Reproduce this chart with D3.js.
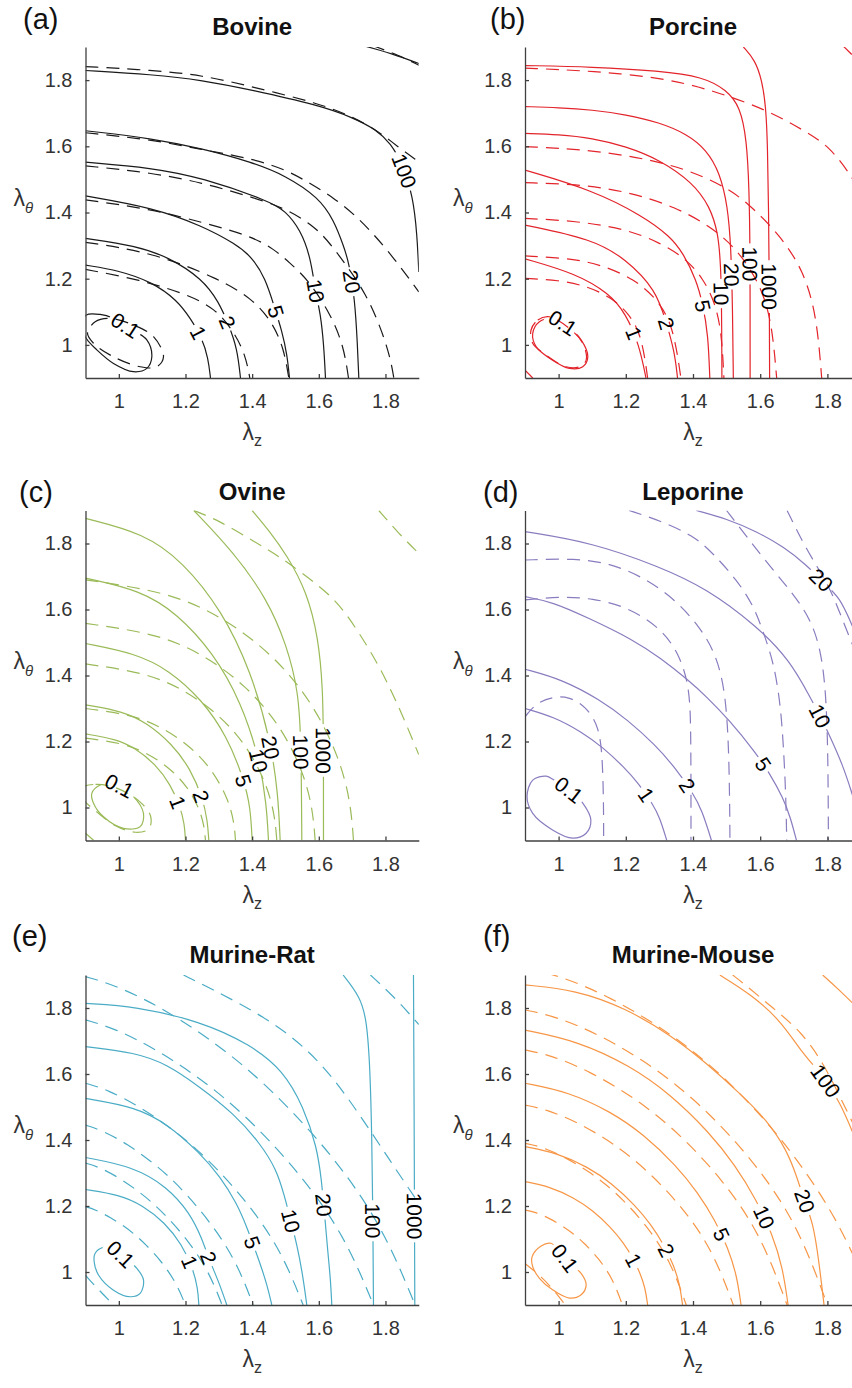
<!DOCTYPE html>
<html>
<head>
<meta charset="utf-8">
<script src="https://cdn.jsdelivr.net/npm/d3@7"></script>
<style>
  body { margin: 0; background: #fff; }
  text { font-family: "Liberation Sans", Arial, Helvetica, sans-serif; }
</style>
</head>
<body>
<div id="chart"></div>
<script>
// axis settings shared by all six panels (lambda_z and lambda_theta)
var domain = [0.9, 1.9];
var xTicks = [1, 1.2, 1.4, 1.6, 1.8];
var yTicks = [1, 1.2, 1.4, 1.6, 1.8];

// contour lines: [lambda_z, lambda_theta] points
// solid = experimental fit, dashed = model; labels = [level, lambda_z, lambda_theta]

// (a) Bovine
var bovineSolid = [
  {level: 0.1, closed: true, pts: [[0.89,1.055],[0.902,1.09],[0.944,1.092],[0.984,1.08],[1.034,1.05],[1.084,1.015],[1.099,0.964],[1.084,0.929],[1.044,0.919],[0.984,0.944],[0.934,0.985],[0.902,1.02]]},
  {level: 1, pts: [[0.9,1.241],[1.0,1.225],[1.1,1.19],[1.175,1.135],[1.215,1.08],[1.25,1.02],[1.268,0.96],[1.275,0.9]]},
  {level: 2, pts: [[0.9,1.322],[1.05,1.3],[1.15,1.265],[1.25,1.2],[1.3,1.13],[1.33,1.06],[1.355,0.99],[1.365,0.9]]},
  {level: 5, pts: [[0.9,1.45],[1.1,1.415],[1.25,1.36],[1.35,1.305],[1.4,1.265],[1.44,1.2],[1.465,1.12],[1.49,1.04],[1.505,0.97],[1.512,0.9]]},
  {level: 10, pts: [[0.9,1.552],[1.1,1.535],[1.25,1.505],[1.45,1.435],[1.5,1.405],[1.545,1.347],[1.575,1.266],[1.59,1.16],[1.605,1.095],[1.615,1.0],[1.62,0.9]]},
  {level: 20, pts: [[0.9,1.647],[1.1,1.624],[1.25,1.593],[1.4,1.552],[1.5,1.512],[1.6,1.445],[1.645,1.377],[1.675,1.297],[1.69,1.25],[1.708,1.14],[1.716,1.0],[1.72,0.9]]},
  {level: 100, pts: [[0.9,1.829],[1.1,1.817],[1.25,1.8],[1.4,1.77],[1.6,1.724],[1.7,1.688],[1.775,1.649],[1.815,1.609],[1.85,1.55],[1.883,1.448],[1.895,1.33],[1.9,1.22]]},
  {level: 1000, pts: [[1.73,1.905],[1.82,1.88],[1.9,1.85]]}
];
var bovineDashed = [
  {level: 0.1, closed: true, pts: [[0.906,1.035],[0.929,1.07],[0.974,1.08],[1.044,1.06],[1.104,1.025],[1.134,0.964],[1.114,0.934],[1.064,0.934],[0.984,0.964],[0.924,1.005]]},
  {level: 1, pts: [[0.9,1.228],[1.05,1.2],[1.2,1.155],[1.29,1.11],[1.345,1.04],[1.38,0.97],[1.393,0.9]]},
  {level: 2, pts: [[0.9,1.31],[1.1,1.28],[1.3,1.2],[1.4,1.14],[1.46,1.07],[1.495,0.99],[1.51,0.9]]},
  {level: 5, pts: [[0.9,1.438],[1.1,1.41],[1.25,1.37],[1.394,1.33],[1.465,1.29],[1.515,1.246],[1.565,1.2],[1.635,1.095],[1.675,0.995],[1.689,0.9]]},
  {level: 10, pts: [[0.9,1.541],[1.1,1.52],[1.25,1.49],[1.394,1.448],[1.494,1.415],[1.583,1.362],[1.634,1.307],[1.69,1.23],[1.74,1.156],[1.785,1.055],[1.815,0.96],[1.825,0.9]]},
  {level: 20, pts: [[0.9,1.641],[1.1,1.62],[1.25,1.59],[1.404,1.562],[1.504,1.528],[1.574,1.488],[1.644,1.445],[1.709,1.392],[1.764,1.335],[1.819,1.27],[1.874,1.196],[1.9,1.16]]},
  {level: 100, pts: [[0.9,1.841],[1.1,1.83],[1.25,1.815],[1.4,1.78],[1.6,1.73],[1.7,1.69],[1.78,1.645],[1.835,1.6],[1.9,1.553]]},
  {level: 1000, pts: [[1.76,1.905],[1.84,1.875],[1.9,1.845]]}
];
var bovineLabels = [[0.1,1.013,1.05],[1,1.233,1.035],[2,1.318,1.065],[5,1.468,1.1],[10,1.573,1.16],[20,1.688,1.19],[100,1.853,1.523]];

// (b) Porcine
var porcineSolid = [
  {level: 0.1, closed: true, pts: [[0.923,1.035],[0.943,1.07],[0.982,1.08],[1.022,1.06],[1.067,1.015],[1.087,0.964],[1.072,0.934],[1.032,0.929],[0.982,0.954],[0.933,0.995]]},
  {level: 1, pts: [[0.9,1.26],[1.05,1.216],[1.15,1.156],[1.2,1.095],[1.24,1.0],[1.26,0.9]]},
  {level: 2, pts: [[0.9,1.362],[1.1,1.32],[1.2,1.26],[1.29,1.166],[1.32,1.07],[1.345,0.98],[1.354,0.9]]},
  {level: 5, pts: [[0.9,1.528],[1.1,1.468],[1.25,1.39],[1.332,1.328],[1.371,1.277],[1.41,1.196],[1.43,1.12],[1.445,1.03],[1.45,0.9]]},
  {level: 10, pts: [[0.9,1.639],[1.0,1.636],[1.1,1.625],[1.2,1.6],[1.3,1.56],[1.4,1.49],[1.45,1.418],[1.475,1.34],[1.485,1.22],[1.486,0.9]]},
  {level: 20, pts: [[0.9,1.72],[1.0,1.717],[1.1,1.71],[1.2,1.696],[1.3,1.672],[1.38,1.638],[1.44,1.59],[1.48,1.52],[1.503,1.42],[1.513,1.3],[1.518,1.1],[1.52,0.9]]},
  {level: 100, pts: [[0.9,1.844],[1.1,1.84],[1.3,1.828],[1.43,1.81],[1.5,1.77],[1.54,1.72],[1.56,1.62],[1.567,1.47],[1.57,1.3],[1.57,0.9]]},
  {level: 1000, pts: [[1.55,1.9],[1.585,1.86],[1.605,1.8],[1.617,1.72],[1.622,1.6],[1.625,1.4],[1.627,1.2],[1.628,0.9]]}
];
var porcineDashed = [
  {level: 0.1, closed: true, pts: [[0.918,1.045],[0.938,1.075],[0.972,1.085],[1.032,1.05],[1.072,1.005],[1.082,0.954],[1.062,0.934],[1.022,0.934],[0.962,0.97],[0.923,1.005]]},
  {level: 0.1, pts: [[0.9,0.924],[0.923,0.9]]},
  {level: 1, pts: [[0.9,1.201],[1.0,1.196],[1.083,1.178],[1.156,1.144],[1.21,1.094],[1.247,1.029],[1.265,0.9]]},
  {level: 2, pts: [[0.9,1.269],[1.04,1.261],[1.13,1.241],[1.225,1.199],[1.294,1.138],[1.341,1.058],[1.364,0.9]]},
  {level: 5, pts: [[0.9,1.382],[1.05,1.375],[1.2,1.35],[1.3,1.31],[1.38,1.26],[1.43,1.2],[1.465,1.13],[1.485,1.04],[1.492,0.9]]},
  {level: 10, pts: [[0.9,1.49],[1.05,1.486],[1.2,1.465],[1.349,1.417],[1.462,1.352],[1.537,1.281],[1.597,1.188],[1.634,1.077],[1.649,0.9]]},
  {level: 20, pts: [[0.9,1.599],[1.1,1.59],[1.332,1.55],[1.48,1.488],[1.56,1.433],[1.66,1.33],[1.728,1.226],[1.768,1.09],[1.783,0.9]]},
  {level: 100, pts: [[0.9,1.836],[1.1,1.828],[1.332,1.805],[1.5,1.755],[1.629,1.705],[1.728,1.649],[1.808,1.599],[1.872,1.508],[1.9,1.46]]},
  {level: 1000, pts: [[1.845,1.905],[1.9,1.85]]}
];
var porcineLabels = [[0.1,1.0,1.05],[1,1.215,1.03],[2,1.305,1.06],[5,1.416,1.115],[10,1.47,1.156],[20,1.505,1.211],[100,1.56,1.246],[1000,1.62,1.176]];

// (c) Ovine
var ovineSolid = [
  {level: 0.1, closed: true, pts: [[0.919,1.043],[0.944,1.068],[0.984,1.073],[1.044,1.033],[1.074,0.982],[1.064,0.942],[1.014,0.937],[0.954,0.972],[0.924,1.013]]},
  {level: 1, pts: [[0.9,1.223],[0.99,1.208],[1.05,1.18],[1.11,1.131],[1.155,1.07],[1.185,1.0],[1.197,0.95],[1.2,0.9]]},
  {level: 2, pts: [[0.9,1.311],[1.011,1.292],[1.085,1.256],[1.159,1.193],[1.215,1.117],[1.252,1.028],[1.266,0.96],[1.27,0.9]]},
  {level: 5, pts: [[0.9,1.497],[1.05,1.467],[1.15,1.417],[1.25,1.326],[1.325,1.215],[1.375,1.086],[1.395,1.0],[1.4,0.9]]},
  {level: 10, pts: [[0.9,1.695],[1.065,1.658],[1.175,1.588],[1.284,1.468],[1.367,1.319],[1.422,1.148],[1.443,1.01],[1.449,0.9]]},
  {level: 20, pts: [[0.9,1.876],[1.075,1.831],[1.192,1.745],[1.309,1.597],[1.396,1.414],[1.455,1.205],[1.478,1.04],[1.484,0.9]]},
  {level: 100, pts: [[1.225,1.9],[1.343,1.775],[1.444,1.634],[1.504,1.492],[1.539,1.351],[1.547,1.2],[1.549,0.9]]},
  {level: 1000, pts: [[1.4,1.9],[1.45,1.84],[1.504,1.765],[1.564,1.654],[1.599,1.513],[1.612,1.36],[1.614,1.2],[1.614,0.9]]}
];
var ovineDashed = [
  {level: 0.1, closed: true, pts: [[0.89,1.06],[0.93,1.07],[0.99,1.06],[1.06,1.02],[1.095,0.975],[1.09,0.935],[1.05,0.925],[0.99,0.945],[0.93,0.99],[0.89,1.03]]},
  {level: 0.1, pts: [[0.9,0.922],[0.925,0.9]]},
  {level: 1, pts: [[0.9,1.21],[1.008,1.196],[1.08,1.168],[1.152,1.121],[1.206,1.063],[1.242,0.997],[1.256,0.944],[1.26,0.9]]},
  {level: 2, pts: [[0.9,1.3],[1.035,1.282],[1.125,1.246],[1.215,1.186],[1.283,1.111],[1.328,1.025],[1.346,0.956],[1.35,0.9]]},
  {level: 5, pts: [[0.9,1.435],[1.072,1.41],[1.187,1.363],[1.302,1.282],[1.388,1.182],[1.445,1.067],[1.468,0.975],[1.474,0.9]]},
  {level: 10, pts: [[0.9,1.558],[1.107,1.528],[1.245,1.47],[1.382,1.37],[1.486,1.247],[1.555,1.105],[1.582,0.993],[1.589,0.9]]},
  {level: 20, pts: [[0.9,1.69],[1.141,1.654],[1.302,1.584],[1.463,1.464],[1.583,1.316],[1.664,1.146],[1.696,1.011],[1.704,0.9]]},
  {level: 100, pts: [[1.225,1.9],[1.3,1.87],[1.409,1.804],[1.484,1.76],[1.609,1.666],[1.674,1.604],[1.769,1.452],[1.814,1.361],[1.853,1.275],[1.9,1.16]]},
  {level: 1000, pts: [[1.78,1.9],[1.84,1.83],[1.9,1.77]]}
];
var ovineLabels = [[0.1,0.983,1.029],[1,1.172,1.014],[2,1.232,1.029],[5,1.355,1.077],[10,1.43,1.144],[20,1.463,1.183],[100,1.544,1.168],[1000,1.61,1.174]];

// (d) Leporine
var leporineSolid = [
  {level: 0.1, closed: true, pts: [[0.906,1.033],[0.923,1.083],[0.963,1.095],[0.987,1.083],[1.032,1.053],[1.072,1.013],[1.096,0.962],[1.082,0.922],[1.042,0.907],[0.982,0.932],[0.923,0.982]]},
  {level: 1, pts: [[0.9,1.3],[0.984,1.276],[1.069,1.229],[1.132,1.182],[1.195,1.122],[1.238,1.073],[1.28,1.011],[1.301,0.97],[1.322,0.9]]},
  {level: 2, pts: [[0.9,1.419],[1.011,1.388],[1.122,1.327],[1.205,1.266],[1.289,1.188],[1.344,1.124],[1.4,1.044],[1.427,0.991],[1.455,0.9]]},
  {level: 5, pts: [[0.9,1.639],[0.981,1.623],[1.085,1.576],[1.223,1.508],[1.304,1.452],[1.385,1.387],[1.441,1.335],[1.506,1.267],[1.587,1.166],[1.627,1.105],[1.668,1.03],[1.69,0.97],[1.708,0.9]]},
  {level: 10, pts: [[0.9,1.836],[1.1,1.803],[1.3,1.73],[1.44,1.664],[1.59,1.55],[1.689,1.445],[1.748,1.335],[1.78,1.275],[1.81,1.21],[1.845,1.13],[1.873,1.045],[1.9,0.95]]},
  {level: 20, pts: [[1.41,1.9],[1.5,1.875],[1.59,1.836],[1.67,1.79],[1.738,1.735],[1.79,1.68],[1.838,1.635],[1.87,1.56],[1.9,1.49]]}
];
var leporineDashed = [
  {level: 1, pts: [[0.9,1.275],[0.933,1.316],[0.982,1.336],[1.032,1.336],[1.082,1.305],[1.121,1.245],[1.131,1.144],[1.134,1.0],[1.134,0.9]]},
  {level: 2, pts: [[0.9,1.629],[1.002,1.639],[1.101,1.634],[1.201,1.609],[1.3,1.548],[1.359,1.467],[1.389,1.366],[1.394,1.245],[1.394,0.9]]},
  {level: 5, pts: [[0.9,1.75],[1.052,1.755],[1.151,1.74],[1.25,1.7],[1.349,1.629],[1.419,1.548],[1.468,1.467],[1.498,1.346],[1.508,1.144],[1.51,0.9]]},
  {level: 10, pts: [[1.21,1.9],[1.3,1.87],[1.4,1.825],[1.46,1.77],[1.53,1.69],[1.579,1.614],[1.609,1.533],[1.639,1.442],[1.658,1.331],[1.668,1.21],[1.676,1.05],[1.679,0.9]]},
  {level: 20, pts: [[1.5,1.9],[1.56,1.82],[1.63,1.73],[1.7,1.645],[1.75,1.57],[1.78,1.48],[1.796,1.35],[1.802,1.15],[1.803,0.9]]},
  {level: 100, pts: [[1.68,1.9],[1.738,1.78],[1.798,1.684],[1.828,1.614],[1.86,1.53],[1.9,1.43]]}
];
var leporineLabels = [[0.1,1.022,1.043],[1,1.25,1.033],[2,1.37,1.06],[5,1.605,1.128],[10,1.777,1.275],[20,1.777,1.684]];

// (e) Murine-Rat
var ratSolid = [
  {level: 0.1, closed: true, pts: [[0.926,1.031],[0.929,1.057],[0.954,1.075],[0.984,1.072],[1.014,1.046],[1.054,1.011],[1.074,0.976],[1.064,0.935],[1.034,0.925],[0.984,0.945],[0.939,0.991]]},
  {level: 1, pts: [[0.9,1.25],[1.002,1.234],[1.07,1.203],[1.138,1.15],[1.189,1.084],[1.223,1.009],[1.237,0.95],[1.24,0.9]]},
  {level: 2, pts: [[0.9,1.347],[1.044,1.319],[1.144,1.259],[1.214,1.178],[1.25,1.1],[1.27,1.04],[1.3,0.97],[1.324,0.9]]},
  {level: 5, pts: [[0.9,1.526],[1.05,1.5],[1.144,1.45],[1.244,1.36],[1.304,1.289],[1.354,1.208],[1.384,1.137],[1.424,1.026],[1.445,0.96],[1.459,0.9]]},
  {level: 10, pts: [[0.9,1.683],[1.05,1.665],[1.144,1.63],[1.244,1.56],[1.344,1.481],[1.424,1.39],[1.474,1.309],[1.497,1.23],[1.515,1.16],[1.535,1.08],[1.552,0.99],[1.564,0.9]]},
  {level: 20, pts: [[0.9,1.814],[1.05,1.805],[1.244,1.76],[1.394,1.69],[1.494,1.61],[1.554,1.5],[1.594,1.38],[1.608,1.28],[1.617,1.18],[1.627,1.06],[1.635,0.98],[1.639,0.9]]},
  {level: 100, pts: [[1.673,1.9],[1.724,1.834],[1.744,1.764],[1.754,1.612],[1.759,1.41],[1.762,1.2],[1.764,0.9]]},
  {level: 1000, pts: [[1.884,1.9],[1.886,1.5],[1.888,0.9]]}
];
var ratDashed = [
  {level: 0.1, pts: [[0.9,1.198],[0.93,1.189],[0.975,1.165],[1.02,1.136],[1.05,1.112],[1.08,1.084],[1.125,1.036],[1.17,0.972],[1.2,0.9]]},
  {level: 0.1, pts: [[0.9,0.99],[0.94,0.945],[0.985,0.9]]},
  {level: 1, pts: [[0.9,1.33],[0.941,1.318],[1.0025,1.285],[1.064,1.241],[1.105,1.206],[1.146,1.166],[1.2075,1.096],[1.269,1.004],[1.31,0.9]]},
  {level: 2, pts: [[0.9,1.445],[0.95,1.429],[1.026,1.388],[1.101,1.332],[1.152,1.288],[1.202,1.237],[1.277,1.148],[1.353,1.032],[1.403,0.9]]},
  {level: 5, pts: [[0.9,1.572],[0.965,1.553],[1.063,1.501],[1.161,1.433],[1.227,1.378],[1.292,1.316],[1.39,1.206],[1.488,1.063],[1.553,0.9]]},
  {level: 10, pts: [[0.9,1.764],[0.986,1.739],[1.116,1.673],[1.246,1.585],[1.332,1.515],[1.418,1.435],[1.548,1.293],[1.678,1.109],[1.764,0.9]]},
  {level: 20, pts: [[0.9,1.895],[0.999,1.866],[1.147,1.791],[1.296,1.689],[1.395,1.608],[1.493,1.516],[1.642,1.353],[1.79,1.141],[1.889,0.9]]},
  {level: 100, pts: [[1.194,1.9],[1.264,1.865],[1.454,1.766],[1.599,1.648],[1.714,1.491],[1.819,1.329],[1.9,1.208]]},
  {level: 1000, pts: [[1.755,1.9],[1.83,1.83],[1.9,1.75]]}
];
var ratLabels = [[0.1,0.999,1.046],[1,1.189,1.021],[2,1.262,1.04],[5,1.399,1.09],[10,1.511,1.152],[20,1.609,1.203],[100,1.754,1.155],[1000,1.882,1.17]];

// (f) Murine-Mouse
var mouseSolid = [
  {level: 0.1, closed: true, pts: [[0.921,1.046],[0.948,1.079],[0.977,1.087],[1.005,1.06],[1.032,1.026],[1.067,0.996],[1.082,0.961],[1.067,0.931],[1.032,0.921],[0.982,0.946],[0.943,0.981],[0.923,1.016]]},
  {level: 1, pts: [[0.9,1.274],[0.973,1.259],[1.046,1.225],[1.101,1.187],[1.156,1.135],[1.192,1.09],[1.221,1.043],[1.243,0.996],[1.258,0.951],[1.265,0.9]]},
  {level: 2, pts: [[0.9,1.38],[0.994,1.361],[1.088,1.318],[1.158,1.269],[1.228,1.202],[1.275,1.144],[1.313,1.083],[1.341,1.024],[1.36,0.966],[1.369,0.9]]},
  {level: 5, pts: [[0.9,1.572],[1.029,1.546],[1.157,1.485],[1.254,1.416],[1.35,1.323],[1.414,1.241],[1.466,1.157],[1.504,1.073],[1.53,0.992],[1.543,0.9]]},
  {level: 10, pts: [[0.9,1.733],[1.057,1.7],[1.213,1.625],[1.331,1.54],[1.448,1.424],[1.526,1.323],[1.589,1.218],[1.636,1.115],[1.667,1.014],[1.683,0.9]]},
  {level: 20, pts: [[0.9,1.87],[1.05,1.855],[1.2,1.8],[1.341,1.713],[1.441,1.632],[1.54,1.541],[1.619,1.461],[1.679,1.37],[1.709,1.289],[1.73,1.22],[1.758,1.148],[1.775,1.03],[1.79,0.9]]},
  {level: 100, pts: [[1.48,1.9],[1.57,1.843],[1.659,1.764],[1.719,1.673],[1.76,1.625],[1.8,1.575],[1.838,1.511],[1.873,1.43],[1.9,1.36]]},
  {level: 1000, pts: [[1.786,1.9],[1.83,1.86],[1.9,1.79]]}
];
var mouseDashed = [
  {level: 0.1, pts: [[0.9,1.188],[0.929,1.182],[0.9725,1.163],[1.016,1.137],[1.045,1.115],[1.074,1.09],[1.118,1.043],[1.161,0.98],[1.19,0.9]]},
  {level: 0.1, pts: [[0.9,1.026],[0.95,0.985],[0.99,0.94],[1.02,0.9]]},
  {level: 1, pts: [[0.9,1.39],[0.948,1.38],[1.02,1.348],[1.092,1.303],[1.14,1.266],[1.188,1.223],[1.26,1.144],[1.332,1.036],[1.38,0.9]]},
  {level: 2, pts: [[0.9,1.506],[0.962,1.493],[1.055,1.455],[1.148,1.399],[1.21,1.353],[1.272,1.299],[1.365,1.201],[1.458,1.068],[1.52,0.9]]},
  {level: 5, pts: [[0.9,1.673],[0.978,1.657],[1.095,1.607],[1.212,1.536],[1.29,1.477],[1.368,1.409],[1.485,1.284],[1.602,1.114],[1.68,0.9]]},
  {level: 10, pts: [[0.9,1.794],[0.99,1.775],[1.125,1.718],[1.26,1.636],[1.35,1.568],[1.44,1.489],[1.575,1.344],[1.71,1.148],[1.8,0.9]]},
  {level: 20, pts: [[0.9,1.92],[1.002,1.899],[1.155,1.833],[1.308,1.739],[1.41,1.662],[1.512,1.572],[1.665,1.407],[1.818,1.183],[1.9,0.999]]},
  {level: 100, pts: [[1.518,1.9],[1.55,1.875],[1.639,1.799],[1.723,1.728],[1.79,1.63],[1.847,1.511],[1.9,1.4]]}
];
var mouseLabels = [[0.1,1.017,1.041],[1,1.215,1.031],[2,1.302,1.055],[5,1.468,1.107],[10,1.607,1.165],[20,1.731,1.215],[100,1.8,1.582]];

// Layout of the 3x2 grid
var svgWidth = 852;
var svgHeight = 1388;
var colLeft = [85.5, 525];
var colWidth = [333.3, 336];
var rowTop = [47, 510.5, 975];
var rowHeight = [331, 330, 330];
var letterX = [[23, 490], [19, 483], [12, 483]];
var letterY = [29, 502, 946];
var titleY = [35, 500, 963];
var axisColor = "#404040";

var panels = [
  {letter: "(a)", title: "Bovine", color: "#1a1a1a", solid: bovineSolid, dashed: bovineDashed, labels: bovineLabels, row: 0, col: 0},
  {letter: "(b)", title: "Porcine", color: "#e3242b", solid: porcineSolid, dashed: porcineDashed, labels: porcineLabels, row: 0, col: 1},
  {letter: "(c)", title: "Ovine", color: "#9bbb59", solid: ovineSolid, dashed: ovineDashed, labels: ovineLabels, row: 1, col: 0},
  {letter: "(d)", title: "Leporine", color: "#8a7cbf", solid: leporineSolid, dashed: leporineDashed, labels: leporineLabels, row: 1, col: 1},
  {letter: "(e)", title: "Murine-Rat", color: "#4bacc6", solid: ratSolid, dashed: ratDashed, labels: ratLabels, row: 2, col: 0},
  {letter: "(f)", title: "Murine-Mouse", color: "#f79646", solid: mouseSolid, dashed: mouseDashed, labels: mouseLabels, row: 2, col: 1}
];

var svg = d3.select("#chart").append("svg")
  .attr("width", svgWidth)
  .attr("height", svgHeight)
  .style("display", "block");
var defs = svg.append("defs");

// nearest point on a rendered path + tangent angle there (for clabel-like text)
function snapToPath(node, px, py) {
  var L = node.getTotalLength();
  var best = 0, bestD = Infinity;
  for (var s = 0; s <= L; s += 1) {
    var p = node.getPointAtLength(s);
    var d = (p.x - px) * (p.x - px) + (p.y - py) * (p.y - py);
    if (d < bestD) { bestD = d; best = s; }
  }
  var p0 = node.getPointAtLength(Math.max(0, best - 4));
  var p1 = node.getPointAtLength(Math.min(L, best + 4));
  var pt = node.getPointAtLength(best);
  var ang = Math.atan2(p1.y - p0.y, p1.x - p0.x) * 180 / Math.PI;
  if (ang > 90) ang -= 180;
  if (ang <= -90) ang += 180;
  return {x: pt.x, y: pt.y, angle: ang};
}

panels.forEach(function(p, pi) {
  var left = colLeft[p.col], top = rowTop[p.row];
  var w = colWidth[p.col], h = rowHeight[p.row];

  var x = d3.scaleLinear().domain(domain).range([left, left + w]);
  var y = d3.scaleLinear().domain(domain).range([top + h, top]);

  defs.append("clipPath").attr("id", "clip" + pi)
    .append("rect")
    .attr("x", left).attr("y", top)
    .attr("width", w).attr("height", h);

  var plot = svg.append("g").attr("clip-path", `url(#clip${pi})`);

  // open contours get a smoothing spline, closed loops a closed Catmull-Rom
  var openLine = d3.line().x(d => x(d[0])).y(d => y(d[1])).curve(d3.curveBasis);
  var closedLine = d3.line().x(d => x(d[0])).y(d => y(d[1])).curve(d3.curveCatmullRomClosed.alpha(0.5));

  // dashed (model) contours
  p.dashed.forEach(function(c) {
    plot.append("path")
      .attr("d", (c.closed ? closedLine : openLine)(c.pts))
      .attr("fill", "none")
      .attr("stroke", p.color)
      .attr("stroke-width", 1.2)
      .attr("stroke-dasharray", "13,8");
  });

  // solid contours
  var solidPaths = p.solid.map(function(c) {
    return plot.append("path")
      .attr("d", (c.closed ? closedLine : openLine)(c.pts))
      .attr("fill", "none")
      .attr("stroke", p.color)
      .attr("stroke-width", 1.2);
  });

  // axes, ticks pointing inwards
  var xAxis = d3.axisBottom(x).tickValues(xTicks).tickSizeInner(-4).tickSizeOuter(0).tickPadding(16).tickFormat(d => String(d));
  var yAxis = d3.axisLeft(y).tickValues(yTicks).tickSizeInner(-4).tickSizeOuter(0).tickPadding(13).tickFormat(d => String(d));

  var gx = svg.append("g").attr("transform", `translate(0,${top + h})`).call(xAxis);
  var gy = svg.append("g").attr("transform", `translate(${left},0)`).call(yAxis);
  [gx, gy].forEach(function(g) {
    g.attr("font-family", null).attr("font-size", null);
    g.selectAll("path, line").attr("stroke", axisColor).attr("stroke-width", 1.3);
    g.selectAll("text").attr("fill", "#333").style("font-size", "20px");
  });

  // axis titles
  var yl = svg.append("text")
    .attr("x", left - 72)
    .attr("y", top + h / 2 - 7)
    .attr("fill", "#333")
    .style("font-size", "23px");
  yl.append("tspan").text("λ");
  yl.append("tspan").attr("dy", 7).style("font-size", "15px").style("font-style", "italic").text("θ");

  var xl = svg.append("text")
    .attr("x", left + w / 2)
    .attr("y", top + h + 62)
    .attr("text-anchor", "middle")
    .attr("fill", "#333")
    .style("font-size", "23px");
  xl.append("tspan").text("λ");
  xl.append("tspan").attr("dy", 6).style("font-size", "16px").text("z");

  // panel title and letter
  svg.append("text")
    .attr("x", left + w / 2)
    .attr("y", titleY[p.row])
    .attr("text-anchor", "middle")
    .attr("font-weight", "bold")
    .attr("fill", "#111")
    .style("font-size", "24px")
    .text(p.title);

  svg.append("text")
    .attr("x", letterX[p.row][p.col])
    .attr("y", letterY[p.row])
    .attr("fill", "#111")
    .style("font-size", "29px")
    .text(p.letter);

  // contour labels sit in a gap cut into their own line
  var gaps = p.solid.map(() => []);
  p.labels.forEach(function(lab) {
    var idx = p.solid.findIndex(c => c.level === lab[0]);
    var pos = snapToPath(solidPaths[idx].node(), x(lab[1]), y(lab[2]));
    var t = svg.append("text")
      .attr("transform", `translate(${pos.x},${pos.y}) rotate(${pos.angle})`)
      .attr("text-anchor", "middle")
      .attr("dy", "0.36em")
      .attr("fill", "#000")
      .style("font-size", "21px")
      .text(String(lab[0]));
    var tw = t.node().getComputedTextLength();
    gaps[idx].push({x: pos.x, y: pos.y, angle: pos.angle, w: tw + 6});
  });

  gaps.forEach(function(list, idx) {
    if (!list.length) return;
    var id = "gap" + pi + "_" + idx;
    var m = defs.append("mask").attr("id", id)
      .attr("maskUnits", "userSpaceOnUse")
      .attr("x", 0).attr("y", 0).attr("width", svgWidth).attr("height", svgHeight);
    m.append("rect").attr("x", 0).attr("y", 0).attr("width", svgWidth).attr("height", svgHeight).attr("fill", "white");
    list.forEach(function(gp) {
      m.append("rect")
        .attr("x", -gp.w / 2).attr("y", -8)
        .attr("width", gp.w).attr("height", 16)
        .attr("transform", `translate(${gp.x},${gp.y}) rotate(${gp.angle})`)
        .attr("fill", "black");
    });
    solidPaths[idx].attr("mask", `url(#${id})`);
  });
});
</script>
</body>
</html>
